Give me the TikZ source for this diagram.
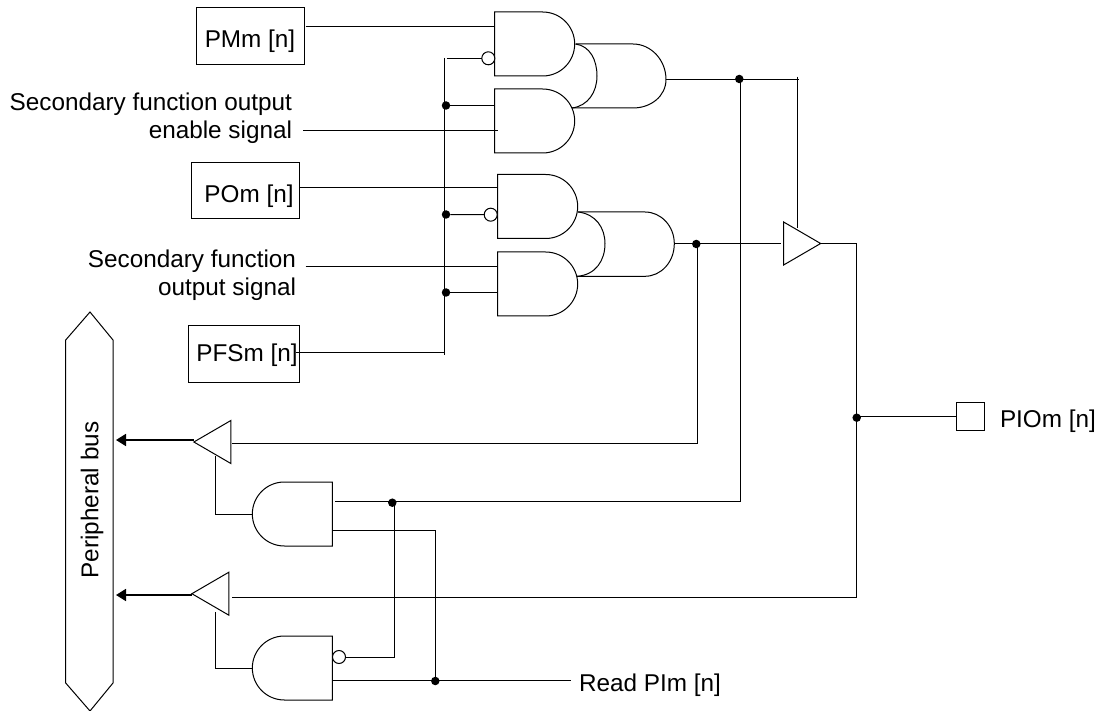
\documentclass[tikz,border=0pt]{standalone}
\usepackage{fontspec}
\setmainfont{Liberation Sans}
\usetikzlibrary{shapes.geometric,shapes.gates.logic.US,arrows.meta}
\tikzset{
  wire/.style={line width=1pt},
  buswire/.style={line width=1.7pt,-{Triangle[length=10pt,width=12pt]}},
  lbl/.style={inner sep=0pt,outer sep=0pt,font=\fontsize{24.3}{28}\selectfont},
  regbox/.style={draw,line width=1pt,rectangle,inner sep=0pt,outer sep=0pt},
  andg/.style={and gate US,draw,line width=1pt,inner sep=0pt,outer sep=0pt,minimum width=80pt,minimum height=64pt},
  andgl/.style={andg,rotate=180},
  buf/.style={isosceles triangle,isosceles triangle stretches,draw,line width=1pt,inner sep=0pt,outer sep=0pt,minimum width=43pt,minimum height=37pt},
  bubble/.style={circle,draw,fill=white,line width=1pt,inner sep=0pt,outer sep=0pt,minimum size=13pt},
  dot/.style={circle,fill,inner sep=0pt,outer sep=0pt,minimum size=8.5pt},
}
\begin{document}
\begin{tikzpicture}[x=1pt,y=-1pt]
\useasboundingbox (0,0) rectangle (1106,711);
% registers and labels
\node[regbox,minimum width=108pt,minimum height=57pt] (pmm) at (250,36.5){};
\node[lbl,anchor=base] (pmmt) at (250,47.5){PMm [n]};
\node[regbox,minimum width=108pt,minimum height=56pt] (pom) at (245,191){};
\node[lbl,anchor=base] (pomt) at (249,203){POm [n]};
\node[regbox,minimum width=111pt,minimum height=56pt] (pfs) at (243.5,354){};
\node[lbl,anchor=base] (pfst) at (247,361.5){PFSm [n]};
\node[regbox,minimum width=28.5pt,minimum height=27.5pt] (pio) at (970.5,416.3){};
\node[lbl,anchor=base west] (piot) at (1000,427.7){PIOm [n]};
\node[lbl,anchor=base east] (sec1) at (292,111){Secondary function output};
\node[lbl,anchor=base east] (sec2) at (292,139){enable signal};
\node[lbl,anchor=base east] (sec3) at (296,268){Secondary function};
\node[lbl,anchor=base east] (sec4) at (296,296){output signal};
\node[lbl,anchor=base west] (rdt) at (579,691.7){Read PIm [n]};
% peripheral bus
\draw[wire] (90,312) -- (113,340) -- (113,683) -- (90,711) -- (65.7,683) -- (65.7,340) -- cycle;
\node[lbl,rotate=90] (bus) at (92,500){Peripheral bus};
\coordinate (bus1) at (116,440);
\coordinate (bus2) at (116,595);
% upper gates
\node[andg] (g1) at (532,44){};
\node[andg] (g2) at (532,121){};
\node[andg] (g4) at (535,206.5){};
\node[andg] (g5) at (535,284){};
\coordinate (g3a) at (575.5,44);
\coordinate (g3b) at (572,108);
\coordinate (g6a) at (578,212);
\coordinate (g6b) at (577,276.3);
\draw[wire] (g3a) -- (633,44) .. controls (651,44) and (666,60) .. (666,79.5)
  .. controls (666,96) and (651,108) .. (633,108) -- (g3b);
\draw[wire] (g3a) .. controls (590,46) and (597,60) .. (597,76) .. controls (597,92) and (588,106) .. (g3b);
\draw[wire] (g6a) -- (645,212) .. controls (661,212) and (674.3,226) .. (674.3,243.7)
  .. controls (674.3,262) and (661,276.3) .. (645,276.3) -- (g6b);
\draw[wire] (g6a) .. controls (596,214) and (605,228) .. (605,243.7) .. controls (605,260) and (596,275) .. (g6b);
% lower gates
\node[andgl] (g7) at (295,514){};
\node[andgl] (g8) at (295,668){};
% buffers
\node[buf] (b1) at (796,243.5){};
\node[buf,shape border rotate=180] (b2) at (218.5,442){};
\node[buf,shape border rotate=180] (b3) at (216.5,593.7){};
% inverted inputs
\node[bubble] (inv1) at (488.3,58.3){};
\node[bubble] (inv2) at (490.7,214.7){};
\node[bubble] (inv3) at (339,657){};
% junctions
\node[dot] (j1) at (446,105.5){};
\node[dot] (j2) at (446,214.5){};
\node[dot] (j3) at (446,292.5){};
\node[dot] (j4) at (739.3,79){};
\node[dot] (j5) at (696.3,244){};
\node[dot] (j6) at (856.7,417.7){};
\node[dot] (j7) at (392.3,502.7){};
\node[dot] (j8) at (435.3,681){};
% wire end points
\coordinate (p1a) at (305.6,26.3);
\coordinate (p1b) at (495,26.3);
\coordinate (vt) at (444.5,58);
\coordinate (vt2) at (446.7,58.3);
\coordinate (vb) at (444.5,355);
\coordinate (vl) at (296,352.3);
\coordinate (p2a) at (303,131);
\coordinate (p2b) at (497.7,131);
\coordinate (p3a) at (300,188);
\coordinate (p3b) at (497.7,188);
\coordinate (p4a) at (305.5,267);
\coordinate (p4b) at (497.7,267);
\coordinate (g3o) at (666,79.5);
\coordinate (en1) at (799,79.5);
\coordinate (en2) at (797,76.7);
\coordinate (en3) at (797,228);
\coordinate (g6o) at (674.3,243.7);
\coordinate (b1i) at (780.7,243.7);
\coordinate (b2i) at (231.7,443);
\coordinate (b2c) at (215.5,456);
\coordinate (b3c) at (215.5,611.7);
\coordinate (b3i) at (231.7,597.7);
\coordinate (out) at (856,597.7);
\coordinate (g7a) at (335,501.7);
\coordinate (g7b) at (740.3,501.7);
\coordinate (g7c) at (332.3,530.7);
\coordinate (g8c) at (332.3,680);
\coordinate (rd) at (570.7,680);
% wires
\draw[wire] (p1a) -- (p1b);
\draw[wire] (p2a) -- (p2b);
\draw[wire] (p3a) -- (p3b);
\draw[wire] (p4a) -- (p4b);
\draw[wire] (vt) -- (vb);
\draw[wire] (vb |- vl) -- (vl);
\draw[wire] (vt2) -- (inv1);
\draw[wire] (j1) -- (j1 -| g2.west);
\draw[wire] (j2) -- (inv2);
\draw[wire] (j3) -- (j3 -| g5.west);
\draw[wire] (g3o) -- (en1);
\draw[wire] (j4 -| g7b) |- (g7a);
\draw[wire] (en2) -- (en3);
\draw[wire] (g6o) -- (b1i);
\draw[wire] (j5) ++(1.4,0) |- (b2i);
\draw[wire] (b1.apex) -| (out) -- (b3i);
\draw[wire] (pio -| j6) -- (pio);
\draw[wire] (j7) ++(1.7,0) |- (inv3);
\draw[wire] (g7c) -| (j8);
\draw[wire] (g8c) -- (rd);
\draw[wire] (g7.output) -| (b2c);
\draw[wire] (g8.output) -| (b3c);
\draw[buswire] (bus1 -| b2.apex) -- (bus1);
\draw[buswire] (bus2 -| b3.apex) -- (bus2);
\end{tikzpicture}
\end{document}
